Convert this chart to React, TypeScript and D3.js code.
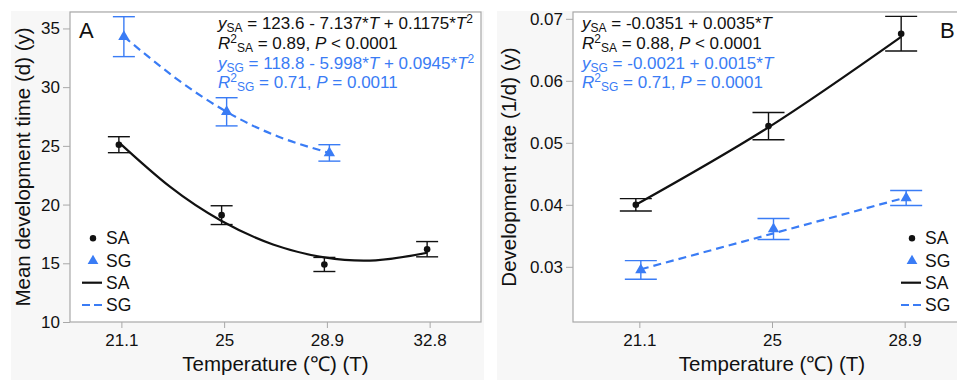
import * as d3 from "d3";
import React, { useEffect, useRef } from "react";

// Temperatures (categories on x)
const tempsA = [21.1, 25, 28.9, 32.8];
const tempsB = [21.1, 25, 28.9];

// Panel A: mean development time (d)
const timeSA = [25.1, 19.1, 14.9, 16.2];
const timeSAse = [0.68, 0.8, 0.6, 0.65];
const timeSG = [34.3, 27.9, 24.4];
const timeSGse = [1.7, 1.2, 0.7];

// fitted curves
const fitTA = [21.1, 23.05, 25, 26.95, 28.9, 30.85, 32.8];
const fitTimeSA = [25.3, 21.5, 18.6, 16.6, 15.5, 15.25, 15.9];
const fitTGA = [21.1, 23.05, 25, 26.95, 28.9];
const fitTimeSG = [34.3, 30.8, 27.9, 25.8, 24.4];

// Panel B: development rate (1/d)
const rateSA = [0.04, 0.0527, 0.0676];
const rateSAse = [0.001, 0.0022, 0.0028];
const rateSG = [0.0295, 0.0361, 0.0411];
const rateSGse = [0.0015, 0.0017, 0.0012];
const fitRateSA = [0.04, 0.0525, 0.0671];
const fitRateSG = [0.0296, 0.0354, 0.0412];

const ticksA = [10, 15, 20, 25, 30, 35];
const ticksB = [0.03, 0.04, 0.05, 0.06, 0.07];

const eqA = [
  [["y", "i"], ["SA", "sub"], [" = 123.6 - 7.137*"], ["T", "i"], [" + 0.1175*"], ["T", "i"], ["2", "sup"]],
  [["R", "i"], ["2", "sup"], ["SA", "sub"], [" = 0.89, "], ["P", "i"], [" < 0.0001"]],
  [["y", "i"], ["SG", "sub"], [" = 118.8 - 5.998*"], ["T", "i"], [" + 0.0945*"], ["T", "i"], ["2", "sup"]],
  [["R", "i"], ["2", "sup"], ["SG", "sub"], [" = 0.71, "], ["P", "i"], [" = 0.0011"]],
];
const eqB = [
  [["y", "i"], ["SA", "sub"], [" = -0.0351 + 0.0035*"], ["T", "i"]],
  [["R", "i"], ["2", "sup"], ["SA", "sub"], [" = 0.88, "], ["P", "i"], [" < 0.0001"]],
  [["y", "i"], ["SG", "sub"], [" = -0.0021 + 0.0015*"], ["T", "i"]],
  [["R", "i"], ["2", "sup"], ["SG", "sub"], [" = 0.71, "], ["P", "i"], [" = 0.0001"]],
];

const BLUE = "#3a7cf5";
const AXIS = "#a8a8a8";
const FONT = "'Liberation Sans', Arial, sans-serif";

const App = () => {
  const svgRef = useRef(null);

  useEffect(() => {
    const svg = d3.select(svgRef.current);
    svg.selectAll("*").remove();
    svg.style("font-family", FONT);

    const drawPanel = (cfg) => {
      const { bgX, left, right, top, bottom, xDomain, yDomain, ticks, temps, fmt } = cfg;
      const g = svg.append("g");

      g.append("rect")
        .attr("x", bgX)
        .attr("y", 11)
        .attr("width", cfg.bgW)
        .attr("height", 380)
        .attr("fill", "#f7f7f7");

      g.append("rect")
        .attr("x", left)
        .attr("y", top)
        .attr("width", right - left)
        .attr("height", bottom - top)
        .attr("fill", "#fff")
        .attr("stroke", AXIS)
        .attr("stroke-width", 1.2);

      const x = d3.scaleLinear().domain(xDomain).range([left, right]);
      const y = d3.scaleLinear().domain(yDomain).range([bottom, top]);

      // y axis
      const ya = g.append("g")
        .attr("transform", `translate(${left},0)`)
        .call(d3.axisLeft(y).tickValues(ticks).tickFormat(fmt).tickSize(7).tickPadding(3));
      ya.select(".domain").remove();
      ya.selectAll("line").attr("stroke", AXIS);
      ya.selectAll("text").attr("fill", "#111").style("font-size", "17px").style("font-family", FONT);

      // x axis
      const xa = g.append("g")
        .attr("transform", `translate(0,${bottom})`)
        .call(d3.axisBottom(x).tickValues(temps).tickFormat((d) => String(d)).tickSize(6).tickPadding(6));
      xa.select(".domain").remove();
      xa.selectAll("line").attr("stroke", AXIS);
      xa.selectAll("text").attr("fill", "#111").style("font-size", "17px").style("font-family", FONT);

      // axis titles
      g.append("text")
        .attr("x", (left + Math.min(right, cfg.titleRight)) / 2)
        .attr("y", 371)
        .attr("text-anchor", "middle")
        .style("font-size", "20.5px")
        .attr("fill", "#111")
        .text("Temperature (℃) (T)");

      g.append("text")
        .attr("transform", `translate(${cfg.yTitleX},${(top + bottom) / 2}) rotate(-90)`)
        .attr("text-anchor", "middle")
        .style("font-size", "20.5px")
        .attr("fill", "#111")
        .text(cfg.yTitle);

      const series = [
        { t: cfg.tSA, v: cfg.SA, se: cfg.SAse, fitT: cfg.fitTSA, fit: cfg.fitSA, color: "#111", dx: cfg.dxSA, shape: "dot" },
        { t: cfg.tSG, v: cfg.SG, se: cfg.SGse, fitT: cfg.fitTSG, fit: cfg.fitSG, color: BLUE, dx: cfg.dxSG, shape: "tri" },
      ];

      series.forEach((s) => {
        const line = d3.line()
          .x((d, i) => x(s.fitT[i]) + s.dx)
          .y((d) => y(d))
          .curve(d3.curveNatural);
        g.append("path")
          .datum(s.fit)
          .attr("fill", "none")
          .attr("stroke", s.color)
          .attr("stroke-width", 2.2)
          .attr("stroke-dasharray", s.shape === "tri" ? "8,5" : null)
          .attr("d", line);

        s.v.forEach((v, i) => {
          const cx = x(s.t[i]) + s.dx;
          const y0 = y(v + s.se[i]);
          const y1 = y(v - s.se[i]);
          const eb = g.append("g").attr("stroke", s.color).attr("stroke-width", 1.4);
          eb.append("line").attr("x1", cx).attr("x2", cx).attr("y1", y0).attr("y2", y1);
          eb.append("line").attr("x1", cx - cfg.cap).attr("x2", cx + cfg.cap).attr("y1", y0).attr("y2", y0);
          eb.append("line").attr("x1", cx - cfg.cap).attr("x2", cx + cfg.cap).attr("y1", y1).attr("y2", y1);
          if (s.shape === "dot") {
            g.append("circle").attr("cx", cx).attr("cy", y(v)).attr("r", 3.3).attr("fill", s.color);
          } else {
            g.append("path")
              .attr("d", d3.symbol(d3.symbolTriangle, 55)())
              .attr("transform", `translate(${cx},${y(v)})`)
              .attr("fill", s.color);
          }
        });
      });

      // equations
      cfg.eq.forEach((parts, li) => {
        const t = g.append("text")
          .attr("x", cfg.eqX)
          .attr("y", 29 + li * 19.8)
          .attr("fill", li < 2 ? "#111" : BLUE)
          .style("font-size", "17px");
        let shift = 0;
        parts.forEach(([txt, kind]) => {
          const sp = t.append("tspan").text(txt);
          let target = 0;
          if (kind === "i") sp.style("font-style", "italic");
          if (kind === "sub") { sp.style("font-size", "12px"); target = 3; }
          if (kind === "sup") { sp.style("font-size", "12px"); target = -6; }
          sp.attr("dy", target - shift);
          shift = target;
        });
      });

      // panel letter
      g.append("text")
        .attr("x", cfg.letterX)
        .attr("y", 38)
        .style("font-size", "22px")
        .attr("fill", "#111")
        .text(cfg.letter);

      // legend
      const lg = g.append("g").style("font-size", "17.5px").attr("fill", "#111");
      const ly = [238.3, 261, 282.7, 305];
      const lx = cfg.legX;
      lg.append("circle").attr("cx", lx + 11).attr("cy", ly[0]).attr("r", 3.2).attr("fill", "#111");
      lg.append("path")
        .attr("d", d3.symbol(d3.symbolTriangle, 50)())
        .attr("transform", `translate(${lx + 11},${ly[1]})`)
        .attr("fill", BLUE);
      lg.append("line").attr("x1", lx).attr("x2", lx + 20).attr("y1", ly[2]).attr("y2", ly[2])
        .attr("stroke", "#111").attr("stroke-width", 2.2);
      lg.append("line").attr("x1", lx).attr("x2", lx + 20).attr("y1", ly[3]).attr("y2", ly[3])
        .attr("stroke", BLUE).attr("stroke-width", 2.2).attr("stroke-dasharray", "8,4");
      ["SA", "SG", "SA", "SG"].forEach((lab, i) => {
        lg.append("text")
          .attr("x", lx + 24)
          .attr("y", ly[i] + 6)
          .text(lab);
      });
    };

    drawPanel({
      bgX: 11, bgW: 473, left: 70, right: 481, top: 12, bottom: 322, titleRight: 481,
      xDomain: [19.15, 34.75], yDomain: [10, 36.4], ticks: ticksA, temps: tempsA,
      fmt: (d) => String(d), yTitle: "Mean development time (d) (y)", yTitleX: 30,
      tSA: tempsA, SA: timeSA, SAse: timeSAse, fitTSA: fitTA, fitSA: fitTimeSA,
      tSG: tempsA.slice(0, 3), SG: timeSG, SGse: timeSGse, fitTSG: fitTGA, fitSG: fitTimeSG,
      dxSA: -2.5, dxSG: 2.5, cap: 11, eq: eqA, eqX: 218, letter: "A", letterX: 79, legX: 82,
    });

    drawPanel({
      bgX: 497, bgW: 500, left: 573, right: 971, top: 12, bottom: 322, titleRight: 971,
      xDomain: [19.15, 30.85], yDomain: [0.0211, 0.0711], ticks: ticksB, temps: tempsB,
      fmt: d3.format(".2f"), yTitle: "Development rate (1/d) (y)", yTitleX: 516,
      tSA: tempsB, SA: rateSA, SAse: rateSAse, fitTSA: tempsB, fitSA: fitRateSA,
      tSG: tempsB, SG: rateSG, SGse: rateSGse, fitTSG: tempsB, fitSG: fitRateSG,
      dxSA: -3.5, dxSG: 1.5, cap: 16, eq: eqB, eqX: 582, letter: "B", letterX: 940, legX: 901,
    });
  }, []);

  return (
    <svg
      ref={svgRef}
      width="957"
      height="380"
      style={{ position: "absolute", left: 0, top: 0, background: "#fff" }}
    ></svg>
  );
};

export default App;
